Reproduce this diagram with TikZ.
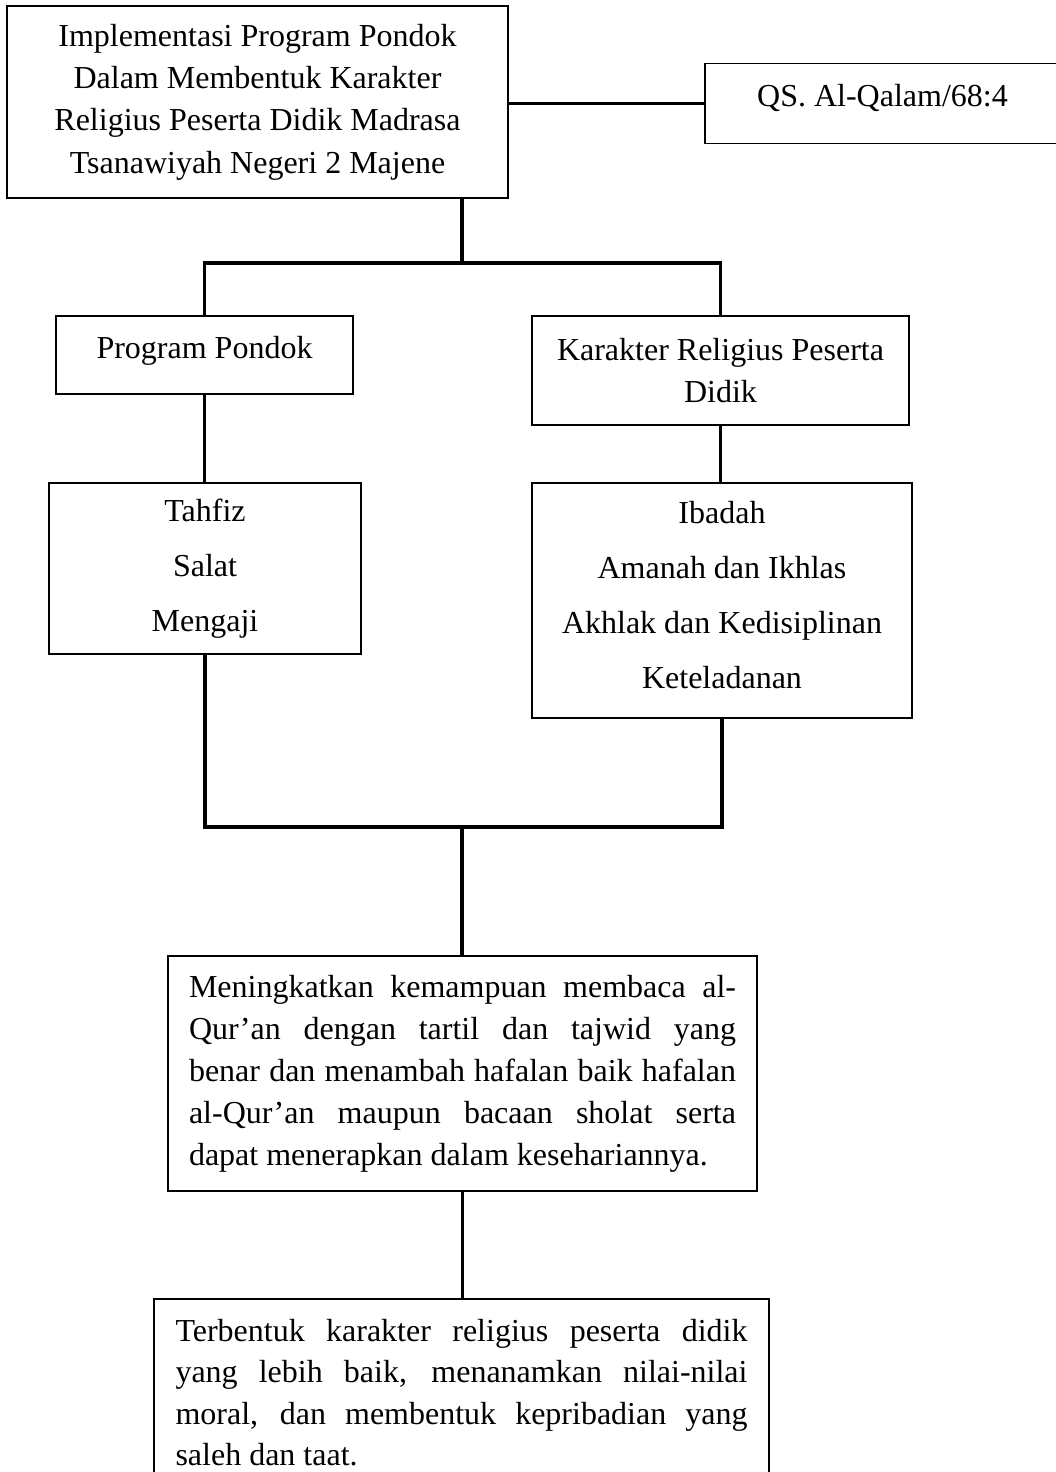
\documentclass[tikz,border=0pt]{standalone}
\usepackage{fontspec}
\setmainfont{Liberation Serif}

\begin{document}
\begin{tikzpicture}[x=0.5pt, y=-0.5pt,
	box/.style={draw, line width=0.75pt, inner sep=0pt, align=center, font=\fontsize{16}{21.2}\selectfont},
	listbox/.style={box, font=\fontsize{16}{27.5}\selectfont},
	parbox/.style={box, align=justify, font=\fontsize{16}{21}\selectfont},
	link/.style={line width=1.8pt}]
	\useasboundingbox (0,0) rectangle (1055,1472);

	\coordinate (J1) at (462,263);
	\coordinate (J2) at (462,827);

	\node [box, minimum width=250.5pt, minimum height=96pt] (judul) at (257.5,102) {Implementasi Program Pondok\\Dalam Membentuk Karakter\\Religius Peserta Didik Madrasa\\Tsanawiyah Negeri 2 Majene};
	\node [box, minimum width=177.5pt, minimum height=40pt, text depth=8pt] (qs) at (882.5,103.5) {QS. Al-Qalam/68:4};

	\node [box, minimum width=148.5pt, minimum height=39pt, text depth=8pt] (pondok) at (204.5,355) {Program Pondok};
	\node [box, minimum width=188.5pt, minimum height=54.5pt] (karakter) at (720.5,370.5) {Karakter Religius Peserta\\Didik};

	\node [listbox, minimum width=156pt, minimum height=85.5pt] (tahfiz) at (205,568.5) {Tahfiz\\Salat\\Mengaji};
	\node [listbox, minimum width=190pt, minimum height=117.5pt, text depth=6pt] (ibadah) at (722,600.5) {Ibadah\\Amanah dan Ikhlas\\Akhlak dan Kedisiplinan\\Keteladanan};

	\node [parbox, text width=273.5pt, minimum width=294.5pt, minimum height=117.5pt] (tujuan) at (462.5,1073.5) {Meningkatkan kemampuan membaca al-\linebreak Qur’an dengan tartil dan tajwid yang\linebreak benar dan menambah hafalan baik hafalan\linebreak al-Qur’an maupun bacaan sholat serta\linebreak dapat menerapkan dalam kesehariannya.};
	\node [parbox, font=\fontsize{16}{20.7}\selectfont, text width=286pt, minimum width=307.5pt, minimum height=93.5pt] (hasil) at (461.5,1392.5) {Terbentuk karakter religius peserta didik\linebreak yang lebih baik, menanamkan nilai-nilai\linebreak moral, dan membentuk kepribadian yang\linebreak saleh dan taat.};

	\draw [link] (qs.west) -- (qs.west -| judul.east);
	\draw [link] (J1 |- judul.south) -- (J1);
	\draw [link] (pondok.north) |- (J1) -| (karakter.north);

	\draw [link] (pondok.south) -- (pondok.south |- tahfiz.north);
	\draw [link] (karakter.south) -- (karakter.south |- ibadah.north);

	\draw [link] (tahfiz.south) |- (J2) -| (ibadah.south);
	\draw [link] (J2) -- (J2 |- tujuan.north);
	\draw [link] (tujuan.south) -- (tujuan.south |- hasil.north);
\end{tikzpicture}
\end{document}
